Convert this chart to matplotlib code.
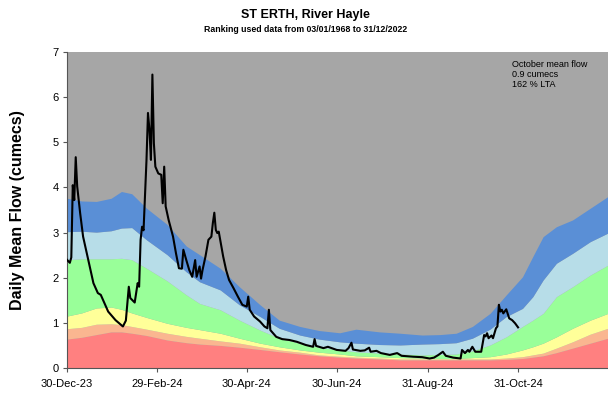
import numpy as np
import matplotlib
matplotlib.use("Agg")
import matplotlib.pyplot as plt

plt.rcParams['font.family'] = ['Liberation Sans', 'DejaVu Sans']

start = np.datetime64('2023-12-30')

# Percentile band boundaries (cumecs), by day offset from 30-Dec-23
band_days = [0, 10, 20, 30, 37, 44, 54, 68, 81, 90, 104, 117, 131, 144, 158,
             171, 185, 196, 212, 226, 241, 253, 264, 275, 287, 298, 309, 316,
             323, 332, 343, 355, 367]
red_top = [0.64, 0.68, 0.74, 0.80, 0.80, 0.77, 0.72, 0.62, 0.56, 0.53, 0.50, 0.46,
           0.41, 0.36, 0.31, 0.27, 0.24, 0.22, 0.20, 0.18, 0.18, 0.18, 0.18, 0.18,
           0.18, 0.19, 0.21, 0.24, 0.27, 0.34, 0.44, 0.55, 0.66]
orange_top = [0.87, 0.90, 0.97, 0.98, 0.96, 0.92, 0.86, 0.77, 0.70, 0.66, 0.60, 0.55,
              0.47, 0.40, 0.35, 0.29, 0.26, 0.24, 0.22, 0.20, 0.20, 0.20, 0.20, 0.20,
              0.20, 0.22, 0.25, 0.29, 0.33, 0.44, 0.58, 0.75, 0.88]
yellow_top = [1.15, 1.22, 1.33, 1.35, 1.30, 1.22, 1.12, 0.99, 0.90, 0.85, 0.77, 0.66,
              0.55, 0.47, 0.40, 0.35, 0.31, 0.27, 0.25, 0.23, 0.22, 0.21, 0.21, 0.23,
              0.25, 0.31, 0.40, 0.47, 0.55, 0.69, 0.88, 1.06, 1.21]
green_top = [2.40, 2.42, 2.42, 2.42, 2.43, 2.40, 2.21, 1.93, 1.62, 1.43, 1.29, 1.06,
             0.84, 0.66, 0.55, 0.46, 0.40, 0.36, 0.33, 0.31, 0.29, 0.30, 0.31, 0.38,
             0.51, 0.69, 0.92, 1.06, 1.21, 1.58, 1.80, 2.06, 2.28]
lblue_top = [3.02, 3.03, 3.01, 3.04, 3.10, 3.11, 2.84, 2.51, 2.13, 1.91, 1.73, 1.40,
             1.14, 0.88, 0.73, 0.64, 0.58, 0.55, 0.52, 0.51, 0.53, 0.54, 0.56, 0.66,
             0.86, 1.14, 1.32, 1.58, 1.95, 2.32, 2.54, 2.80, 2.99]
blue_top = [3.76, 3.70, 3.69, 3.76, 3.91, 3.86, 3.54, 3.18, 2.70, 2.51, 2.21, 1.80,
            1.40, 1.06, 0.92, 0.83, 0.78, 0.86, 0.80, 0.77, 0.73, 0.74, 0.77, 0.92,
            1.21, 1.62, 2.02, 2.47, 2.91, 3.13, 3.28, 3.54, 3.80]

# Daily mean flow 2024 (cumecs), by day offset from 30-Dec-23
flow_days = [0, 2, 3, 4, 5, 6, 7, 9, 11, 15, 18, 21, 23, 25, 28, 33, 38, 40, 42, 43,
             46, 48, 49, 50, 51, 52, 54, 55, 56, 57, 58, 59, 60, 62, 64, 65, 66, 67,
             69, 72, 74, 76, 78, 79, 81, 83, 85, 87, 88, 90, 91, 92, 94, 96, 98, 99,
             100, 101, 102, 103, 104, 106, 108, 110, 113, 116, 119, 122, 123, 124,
             127, 131, 134, 136, 137, 138, 142, 146, 151, 156, 162, 167, 168, 169,
             174, 177, 183, 189, 191, 193, 194, 199, 202, 205, 206, 210, 213, 219,
             224, 227, 235, 241, 246, 249, 252, 255, 257, 262, 267, 268, 270, 272,
             273, 275, 277, 281, 283, 284, 285, 286, 288, 289, 291, 292, 293, 294,
             295, 296, 298, 300, 302, 304, 306]
flow = [2.40, 2.33, 2.45, 4.05, 3.72, 4.67, 4.02, 3.43, 2.91, 2.32, 1.88, 1.66, 1.62,
        1.47, 1.25, 1.06, 0.92, 1.05, 1.80, 1.55, 1.45, 1.88, 1.80, 2.84, 3.13, 3.05,
        4.61, 5.65, 5.28, 4.61, 6.50, 4.98, 4.46, 4.31, 4.28, 3.65, 4.46, 3.58, 3.28,
        2.91, 2.54, 2.21, 2.20, 2.62, 2.39, 2.17, 2.02, 2.39, 2.02, 2.25, 1.98, 2.17,
        2.47, 2.84, 2.91, 3.21, 3.44, 3.06, 2.99, 3.02, 2.84, 2.47, 2.17, 1.95, 1.77,
        1.58, 1.40, 1.36, 1.58, 1.29, 1.14, 1.03, 0.92, 0.88, 1.29, 0.84, 0.69, 0.64,
        0.62, 0.58, 0.51, 0.47, 0.64, 0.49, 0.44, 0.47, 0.40, 0.38, 0.44, 0.56, 0.41,
        0.38, 0.39, 0.45, 0.36, 0.38, 0.33, 0.29, 0.33, 0.27, 0.25, 0.24, 0.21, 0.23,
        0.29, 0.36, 0.27, 0.23, 0.21, 0.40, 0.33, 0.40, 0.36, 0.47, 0.36, 0.36, 0.73,
        0.70, 0.77, 0.66, 0.72, 0.66, 0.88, 0.92, 1.40, 1.25, 1.29, 1.21, 1.30, 1.10,
        1.06, 0.99, 0.90]

tick_labels = ['30-Dec-23', '29-Feb-24', '30-Apr-24', '30-Jun-24', '31-Aug-24', '31-Oct-24']
tick_dates = ['2023-12-30', '2024-02-29', '2024-04-30', '2024-06-30', '2024-08-31', '2024-10-31']

title = 'ST ERTH, River Hayle'
subtitle = 'Ranking used data from 03/01/1968 to 31/12/2022'
note = 'October mean flow\n0.9 cumecs\n162 % LTA'

band_x = start + np.array(band_days).astype('timedelta64[D]')
flow_x = start + np.array(flow_days).astype('timedelta64[D]')

fig = plt.figure(figsize=(6.08, 3.94), dpi=100)
ax = fig.add_axes([0.110, 0.066, 0.890, 0.802])

colors = ['#FF8080', '#FAB690', '#FFFF99', '#99FF99', '#B7DDE8', '#5A8FD6']
levels = [np.zeros(len(band_days)), red_top, orange_top, yellow_top, green_top,
          lblue_top, blue_top]
ax.set_facecolor('#A6A6A6')
for i, c in enumerate(colors):
    ax.fill_between(band_x, levels[i], levels[i + 1], color=c, lw=0, zorder=1)

ax.plot(flow_x, flow, color='black', lw=1.5, zorder=3)

ax.set_ylim(0, 7)
ax.set_xlim(start, start + np.timedelta64(367, 'D'))
ax.set_yticks(range(8))
ax.set_xticks([np.datetime64(d) for d in tick_dates])
ax.set_xticklabels(tick_labels)
ax.tick_params(axis='both', labelsize=8, length=3, color='#555555', pad=3)
ax.tick_params(axis='x', pad=5)
for s in ['top', 'right']:
    ax.spines[s].set_visible(False)
for s in ['left', 'bottom']:
    ax.spines[s].set_color('#555555')
    ax.spines[s].set_linewidth(0.8)

ax.set_ylabel('Daily Mean Flow (cumecs)', fontsize=11.5, fontweight='bold', labelpad=20)

fig.text(0.502, 0.962, title, ha='center', va='center', fontsize=9, fontweight='bold')
fig.text(0.502, 0.924, subtitle, ha='center', va='center', fontsize=6.3, fontweight='bold')
ax.text(0.822, 0.975, note, transform=ax.transAxes, ha='left', va='top',
        fontsize=6.5, linespacing=1.15)

fig.savefig('out.png', dpi=100)
